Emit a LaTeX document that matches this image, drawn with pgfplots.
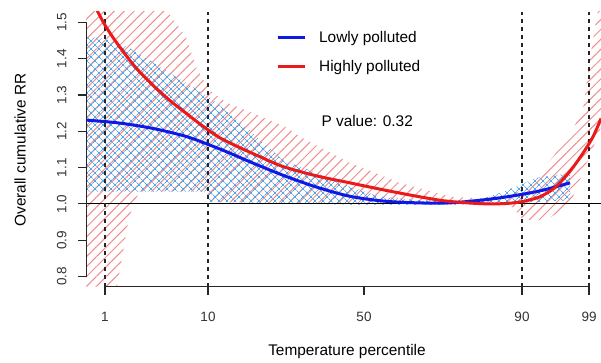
\documentclass[border=0pt]{standalone}
\usepackage{fontspec}
\setmainfont{Liberation Sans}
\usepackage{pgfplots}
\pgfplotsset{compat=1.18}
\usepgfplotslibrary{fillbetween}
\usetikzlibrary{patterns.meta,calc}
\definecolor{lineblue}{RGB}{15,25,230}
\definecolor{linered}{RGB}{235,25,25}
\definecolor{hatchblue}{RGB}{85,165,230}
\definecolor{hatchred}{RGB}{240,140,140}
\begin{document}
\begin{tikzpicture}
\begin{axis}[name=ax, at={(0,0)}, anchor=south west,
  scale only axis, width=515bp, height=275.15bp,
  xmin=86, xmax=601, ymin=0.772, ymax=1.53,
  axis x line*=bottom, axis y line*=left, axis line style={draw=none},
  xtick={105,208,364,522,589}, xticklabels={1,10,50,90,99},
  ytick={0.8,0.9,1.0,1.1,1.2,1.3,1.4,1.5},
  yticklabels={0.8,0.9,1.0,1.1,1.2,1.3,1.4,1.5},
  tick align=outside, major tick length=8bp,
  tick style={black!85, line width=1.1bp},
  ticklabel style={font=\fontsize{13.5bp}{16bp}\selectfont, text=black!80},
  xticklabel style={yshift=-14bp},
  yticklabel style={rotate=90, anchor=south, yshift=8bp},
  legend style={draw=none, fill=none, at={(axis cs:273,1.487)}, anchor=north west,
    font=\fontsize{15.4bp}{18bp}\selectfont, row sep=12bp,
    /tikz/every odd column/.append style={column sep=11bp}},
  legend cell align=left,
  legend image code/.code={\draw[#1] (0bp,0bp) -- (27bp,0bp);},
]
% red CI band
\addplot[name path=ru, draw=none, forget plot] coordinates {
(86,1.55) (166,1.535) (186,1.46) (196,1.377) (209,1.314) (226,1.28) (253,1.25)
(286,1.212) (300,1.185) (350,1.113) (400,1.058) (450,1.02) (480,1.015) (505,1.025) (520,1.035)
(537,1.08) (553,1.13) (570,1.19) (583,1.26) (590,1.40) (597,1.52) (601,1.56)};
\addplot[name path=rl, draw=none, forget plot] coordinates {
(86,0.70) (117,0.70) (117,0.772) (129,0.964) (139,1.034) (206,1.034) (209,1.005)
(300,1.003) (400,1.0) (500,1.0) (513,0.99) (523,0.956) (547,0.956) (570,1.0)
(585,1.10) (601,1.21)};
\addplot[draw=none, pattern={Lines[angle=45,distance=7bp,line width=1bp]}, pattern color=hatchred, forget plot]
  fill between[of=ru and rl];
% blue CI band
\addplot[name path=bu, draw=none, forget plot] coordinates {
(86,1.46) (106,1.455) (129,1.43) (149,1.397) (176,1.35) (209,1.295) (249,1.204)
(283,1.12) (317,1.085) (350,1.047) (380,1.02) (420,1.01) (460,1.01) (483,1.015) (503,1.033) (537,1.072) (570,1.085)};
\addplot[name path=bl, draw=none, forget plot] coordinates {
(86,1.034) (206,1.034) (210,1.006) (300,1.0) (364,0.998) (450,0.998) (520,1.003) (570,1.01)};
\addplot[draw=none, pattern={Lines[angle=45,distance=6bp,line width=0.9bp]}, pattern color=hatchblue, forget plot]
  fill between[of=bu and bl];
\addplot[draw=none, pattern={Lines[angle=-45,distance=6bp,line width=0.9bp]}, pattern color=hatchblue, forget plot]
  fill between[of=bu and bl];
% reference lines
\addplot[forget plot, black, line width=1bp] coordinates {(86,1.0) (601,1.0)};
\addplot[forget plot, black!85, line width=1.1bp, dash pattern=on 4bp off 4bp] coordinates {(105,0.772) (105,1.53)};
\addplot[forget plot, black!85, line width=1.1bp, dash pattern=on 4bp off 4bp] coordinates {(208,0.772) (208,1.53)};
\addplot[forget plot, black!85, line width=1.1bp, dash pattern=on 4bp off 4bp] coordinates {(522,0.772) (522,1.53)};
\addplot[forget plot, black!85, line width=1.1bp, dash pattern=on 4bp off 4bp] coordinates {(589,0.772) (589,1.53)};
% curves
\addplot[lineblue, line width=3bp, smooth] coordinates {
(86,1.231) (119,1.223) (153,1.208) (186,1.186) (209,1.163) (229,1.141) (250,1.116)
(283,1.079) (317,1.046) (350,1.021) (383,1.008) (417,1.003) (450,1.003) (483,1.011)
(510,1.021) (540,1.036) (570,1.058)};
\addlegendentry{Lowly polluted}
\addplot[linered, line width=3bp, smooth] coordinates {
(93,1.56) (97.7,1.53) (106,1.488) (119,1.435) (136,1.375) (153,1.327) (169,1.287)
(186,1.25) (203,1.214) (220,1.182) (240,1.155) (260,1.13) (283,1.103) (317,1.077)
(350,1.058) (383,1.039) (417,1.021) (443,1.009) (467,1.003) (490,1.0) (510,1.002)
(525,1.008) (540,1.02) (555,1.045) (570,1.09) (583,1.14) (593,1.185) (601,1.235)};
\addlegendentry{Highly polluted}
\node[anchor=west, font=\fontsize{15.4bp}{18bp}\selectfont] at (axis cs:318,1.229) {P value: 0.32};
% partial axis lines (R style)
\draw[black!85, line width=1.3bp] (axis cs:105,0.772) -- (axis cs:589,0.772);
\draw[black!85, line width=1.3bp] (axis cs:86,0.8) -- (axis cs:86,1.5);
\end{axis}
\node[rotate=90, font=\fontsize{15.4bp}{18bp}\selectfont] at ($(ax.south west)+(-66bp,136.7bp)$) {Overall cumulative RR};
\node[font=\fontsize{15.4bp}{18bp}\selectfont] at ($(ax.south west)+(261bp,-65.3bp)$) {Temperature percentile};
\pgfresetboundingbox
\path ($(ax.south west)+(-86bp,-76.3bp)$) rectangle ($(ax.north east)+(0bp,11.55bp)$);
\end{tikzpicture}
\end{document}
